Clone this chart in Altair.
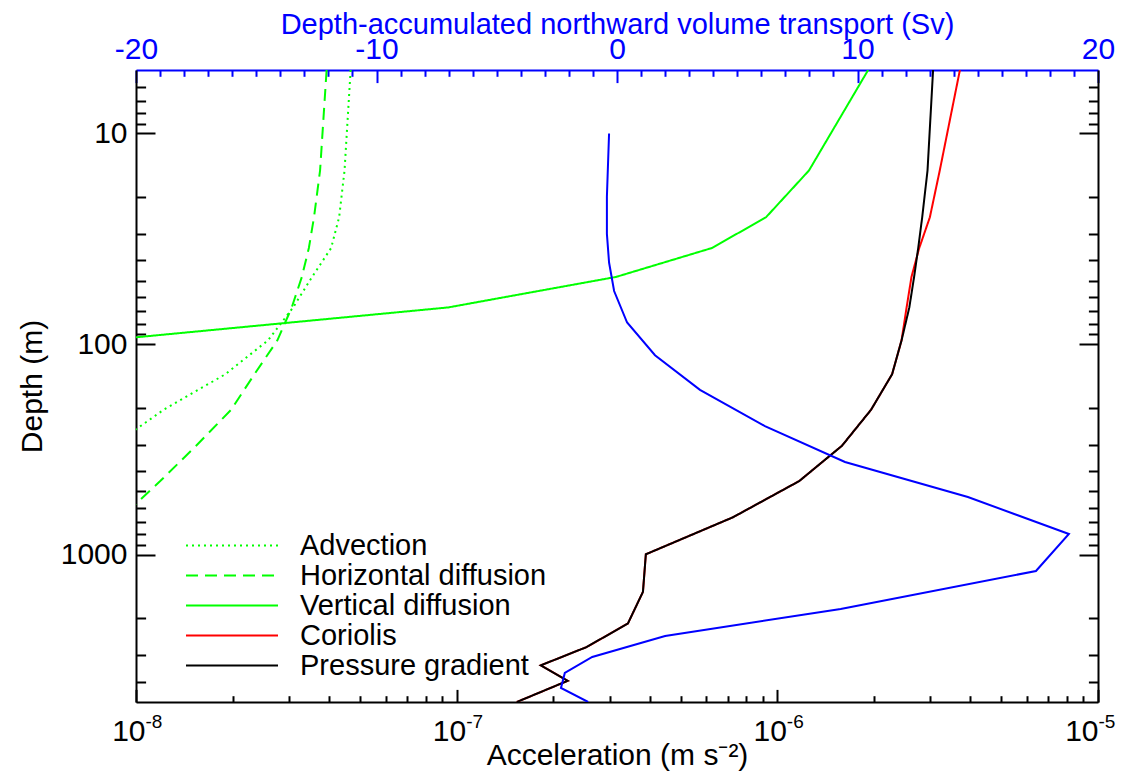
import altair as alt
import pandas as pd

# ---------------- data ----------------
terms = ["Advection", "Horizontal diffusion", "Vertical diffusion", "Coriolis", "Pressure gradient"]
term_colors = ["#00ff00", "#00ff00", "#00ff00", "#ff0000", "#000000"]
term_dashes = [[2, 4], [12, 7], [1, 0], [1, 0], [1, 0]]

# depth levels (m) of the acceleration terms
depth_acc = [5, 15, 25, 35, 48, 67, 96, 139, 205, 304, 447, 664, 995, 1500, 2120, 2744, 3349, 3965, 5000]

advection = [4.67e-8, 4.47e-8, 4.30e-8, 4.06e-8, 3.54e-8, 3.09e-8, 2.58e-8, 1.90e-8, 1.22e-8, 8.45e-9]
horizontal_diffusion = [3.93e-8, 3.75e-8, 3.59e-8, 3.46e-8, 3.29e-8, 3.06e-8, 2.76e-8, 2.34e-8,
                        1.98e-8, 1.54e-8, 1.19e-8, 9.0e-9]
vertical_diffusion = [1.92e-6, 1.255e-6, 9.22e-7, 6.25e-7, 3.14e-7, 9.4e-8, 7.95e-9]
coriolis = [3.71e-6, 3.21e-6, 2.99e-6, 2.77e-6, 2.62e-6, 2.53e-6, 2.44e-6, 2.28e-6, 1.96e-6, 1.59e-6,
            1.17e-6, 7.27e-7, 3.89e-7, 3.81e-7, 3.42e-7, 2.54e-7, 1.83e-7, 2.22e-7, 1.54e-7]
pressure_gradient = [3.06e-6, 2.94e-6, 2.83e-6, 2.75e-6, 2.67e-6, 2.58e-6, 2.44e-6, 2.28e-6, 1.96e-6, 1.59e-6,
                     1.17e-6, 7.27e-7, 3.89e-7, 3.81e-7, 3.42e-7, 2.54e-7, 1.83e-7, 2.22e-7, 1.54e-7]

# depth-accumulated northward volume transport (Sv)
depth_sv = [10, 20, 30, 41, 56, 79, 113, 165, 245, 363, 532, 797, 1194, 1809, 2431, 3057, 3641, 4290, 5000]
transport_sv = [-0.33, -0.42, -0.42, -0.33, -0.12, 0.42, 1.58, 3.45, 6.15, 9.48, 14.59, 18.79, 17.42,
                9.3, 2.0, -1.03, -2.17, -2.33, -1.2]

# tick values
acc_major = [1e-8, 1e-7, 1e-6, 1e-5]
acc_minor = [2e-8, 3e-8, 4e-8, 5e-8, 6e-8, 7e-8, 8e-8, 9e-8,
             2e-7, 3e-7, 4e-7, 5e-7, 6e-7, 7e-7, 8e-7, 9e-7,
             2e-6, 3e-6, 4e-6, 5e-6, 6e-6, 7e-6, 8e-6, 9e-6]
depth_major = [10, 100, 1000]
depth_minor = [6, 7, 8, 9, 20, 30, 40, 50, 60, 70, 80, 90,
               200, 300, 400, 500, 600, 700, 800, 900, 2000, 3000, 4000]
sv_major = [-20, -10, 0, 10, 20]
sv_minor = [-19, -18, -17, -16, -15, -14, -13, -12, -11, -9, -8, -7, -6, -5, -4, -3, -2, -1,
            1, 2, 3, 4, 5, 6, 7, 8, 9, 11, 12, 13, 14, 15, 16, 17, 18, 19]

rows = []
for name, vals in zip(terms, [advection, horizontal_diffusion, vertical_diffusion, coriolis, pressure_gradient]):
    for i, (d, v) in enumerate(zip(depth_acc, vals)):
        rows.append({"term": name, "depth": d, "acc": v, "i": i})
acc_df = pd.DataFrame(rows)
sv_df = pd.DataFrame({"depth": depth_sv, "sv": transport_sv, "i": list(range(len(depth_sv)))})

W, H = 962, 632
FONT = "Liberation Sans"
FS = 30
MAJ_X, MIN_X = 12.6, 6.3     # tick lengths on horizontal edges
MAJ_Y, MIN_Y = 19, 9.6       # tick lengths on vertical edges
# the last bottom label is nudged left so its exponent stays inside the page
EXP_OFFSET = {"condition": {"test": "datum.value > 5e-6", "value": 0}, "value": 9}


def acc_scale():
    return alt.Scale(type="log", domain=[1e-8, 1e-5], nice=False)


def depth_scale():
    return alt.Scale(type="log", domain=[5, 5000], nice=False, reverse=True)


def sv_scale():
    return alt.Scale(domain=[-20, 20], nice=False, zero=False)


def tick_axis(orient, offset, values, size, color="black", domain=False):
    return alt.Axis(orient=orient, offset=offset, values=values, labels=False, domain=domain,
                    domainColor=color, ticks=True, tickSize=size, tickColor=color, title=None)


legend = alt.Legend(title=None, orient="none", legendX=49, legendY=461, direction="vertical",
                    symbolType="stroke", symbolSize=8464, symbolStrokeWidth=2,
                    labelFont=FONT, labelFontSize=29, labelOffset=21, labelLimit=500,
                    clipHeight=29, rowPadding=0, padding=0)

# main acceleration profiles
lines = alt.Chart(acc_df).mark_line(clip=True, strokeWidth=2, strokeCap="butt").encode(
    x=alt.X("acc:Q", scale=acc_scale(),
            axis=alt.Axis(orient="bottom", values=acc_major, labelExpr="'10'", labelAlign="right",
                          labelOffset=EXP_OFFSET, labelBaseline="alphabetic", labelPadding=38,
                          ticks=False, tickSize=0, title="Acceleration (m s\u207b\u00b2)", titleY=62,
                          titleBaseline="alphabetic")),
    y=alt.Y("depth:Q", scale=depth_scale(),
            axis=alt.Axis(orient="left", values=depth_major, labelExpr="'' + datum.value",
                          labelPadding=9, labelBaseline="middle", ticks=False, tickSize=0,
                          title="Depth (m)", titleX=-95, titleBaseline="alphabetic")),
    color=alt.Color("term:N", scale=alt.Scale(domain=terms, range=term_colors), legend=legend),
    strokeDash=alt.StrokeDash("term:N", scale=alt.Scale(domain=terms, range=term_dashes), legend=legend),
    order=alt.Order("i:Q"),
)

# transport profile on the top axis
transport = alt.Chart(sv_df).mark_line(clip=True, strokeWidth=2, color="#0000ff").encode(
    x=alt.X("sv:Q", scale=sv_scale(),
            axis=alt.Axis(orient="top", values=sv_major, labelExpr="'' + datum.value",
                          labelColor="#0000ff", labelBaseline="alphabetic", labelPadding=12,
                          ticks=False, tickSize=0, domainColor="#0000ff",
                          title="Depth-accumulated northward volume transport (Sv)",
                          titleColor="#0000ff", titleFontSize=29, titleY=-37,
                          titleBaseline="alphabetic")),
    y=alt.Y("depth:Q", scale=depth_scale(), axis=tick_axis("right", -W, depth_major, MAJ_Y)),
    order=alt.Order("i:Q"),
)

g3 = alt.Chart(acc_df).mark_point(opacity=0).encode(
    x=alt.X("acc:Q", scale=acc_scale(), axis=tick_axis("top", -H, acc_major, MAJ_X)),
    y=alt.Y("depth:Q", scale=depth_scale(), axis=tick_axis("right", -W, depth_minor, MIN_Y)),
)
g4 = alt.Chart(acc_df).mark_point(opacity=0).encode(
    x=alt.X("acc:Q", scale=acc_scale(), axis=tick_axis("top", -H, acc_minor, MIN_X)),
    y=alt.Y("depth:Q", scale=depth_scale(), axis=tick_axis("left", -W, depth_major, MAJ_Y, domain=True)),
)
g5 = alt.Chart(sv_df).mark_point(opacity=0).encode(
    x=alt.X("sv:Q", scale=sv_scale(), axis=tick_axis("bottom", -H, sv_major, MAJ_X, color="#0000ff")),
    y=alt.Y("depth:Q", scale=depth_scale(), axis=tick_axis("left", -W, depth_minor, MIN_Y)),
)
g6 = alt.Chart(sv_df).mark_point(opacity=0).encode(
    x=alt.X("sv:Q", scale=sv_scale(), axis=tick_axis("bottom", -H, sv_minor, MIN_X, color="#0000ff")),
    y=alt.Y("depth:Q", scale=depth_scale(), axis=None),
)
# exponent (superscript) part of the bottom tick labels
g7 = alt.Chart(acc_df).mark_point(opacity=0).encode(
    x=alt.X("acc:Q", scale=acc_scale(),
            axis=alt.Axis(orient="bottom", values=acc_major,
                          labelExpr="'' + round(log(datum.value) / LN10)", labelFontSize=19,
                          labelAlign="left", labelOffset=EXP_OFFSET, labelBaseline="alphabetic",
                          labelPadding=25, ticks=False, tickSize=0, domain=False, title=None)),
    y=alt.Y("depth:Q", scale=depth_scale(), axis=None),
)

chart = alt.layer(lines, transport, g3, g4, g5, g6, g7).resolve_scale(
    x="independent", y="independent"
).resolve_axis(x="independent", y="independent").properties(
    width=W, height=H,
    autosize=alt.AutoSizeParams(type="none"),
    padding={"left": 128, "top": 62, "right": 18, "bottom": 69},
).configure(font=FONT).configure_view(stroke=None).configure_axis(
    labelFont=FONT, titleFont=FONT, labelFontSize=FS, titleFontSize=FS, titleFontWeight="normal",
    labelColor="black", titleColor="black", domainColor="black", domainWidth=2, tickColor="black",
    tickWidth=2, grid=False, labelFlush=False, labelOverlap=False, labelBound=False, titleLimit=1000,
    labelLimit=500,
)

chart.save("out.html", embed_options={"renderer": "svg", "actions": False})
